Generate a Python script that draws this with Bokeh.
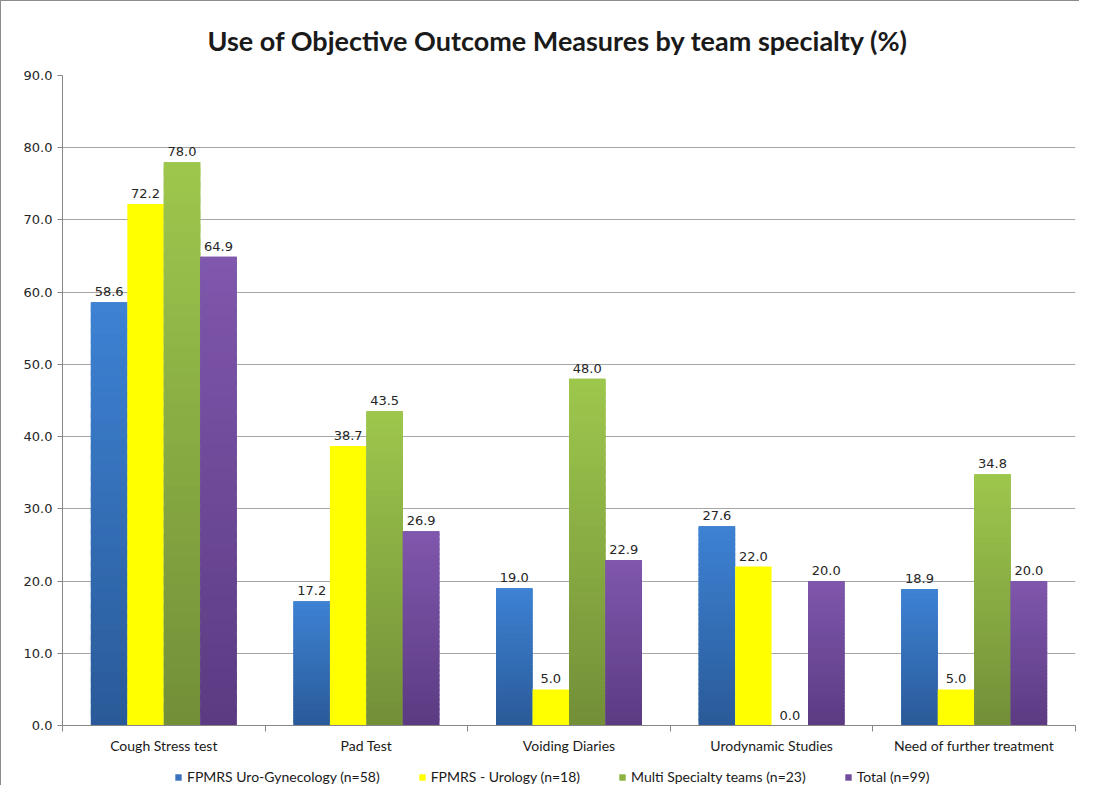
import numpy as np
from bokeh.plotting import figure
from bokeh.layouts import column
from bokeh.models import (ColumnDataSource, FixedTicker, Legend, LegendItem, LabelSet,
                          NumeralTickFormatter, Range1d)
from bokeh.core.properties import value
from bokeh.embed import file_html
from bokeh.resources import INLINE

# ---------------- data ----------------
categories = ["Cough Stress test", "Pad Test", "Voiding Diaries",
              "Urodynamic Studies", "Need of further treatment"]
series_names = ["FPMRS Uro-Gynecology (n=58)", "FPMRS - Urology (n=18)",
                "Multi Specialty teams (n=23)", "Total (n=99)"]
uro_gyn = [58.6, 17.2, 19.0, 27.6, 18.9]
urology = [72.2, 38.7, 5.0, 22.0, 5.0]
multi = [78.0, 43.5, 48.0, 0.0, 34.8]
total = [64.9, 26.9, 22.9, 20.0, 20.0]
y_ticks = [0, 10, 20, 30, 40, 50, 60, 70, 80, 90]
title_text = "Use of Objective Outcome Measures by team specialty (%)"

# ---------------- styles ----------------
series_values = [uro_gyn, urology, multi, total]
base_colors = ["#3a72c0", "#ffff00", "#8ab43f", "#6f4c9e"]
top_colors = ["#3d82d4", "#ffff00", "#9ec74d", "#7f57ad"]
bottom_colors = ["#2a5a98", "#ffff00", "#728f38", "#5c3b82"]

BAR_W = 0.18
offsets = [-1.5 * BAR_W, -0.5 * BAR_W, 0.5 * BAR_W, 1.5 * BAR_W]
W = 1078

p = figure(width=W, height=767, output_backend="svg", toolbar_location=None,
           x_range=Range1d(0, len(categories)), y_range=Range1d(0, 90),
           min_border_left=61, min_border_right=4, min_border_top=74,
           min_border_bottom=43, title=title_text)
p.outline_line_color = None
p.background_fill_color = "white"
p.border_fill_color = "white"

p.title.align = "left"
p.title.offset = 145
p.title.text_font = "Lato"
p.title.text_font_style = "bold"
p.title.text_font_size = "27px"
p.title.text_color = "#1a1a1a"
p.title.standoff = 37

def hex2rgb(h):
    h = h.lstrip("#")
    return np.array([int(h[i:i + 2], 16) for i in (0, 2, 4)], dtype=float)

def rgb2hex(c):
    return "#%02x%02x%02x" % tuple(int(round(v)) for v in c)

centers = np.arange(len(categories)) + 0.5
N = 40
sources = []
for si, vals in enumerate(series_values):
    xs = centers + offsets[si]
    src = ColumnDataSource(dict(x=xs, top=vals, lbl=["%.1f" % v for v in vals]))
    sources.append(src)
    p.vbar(x="x", top="top", bottom=0, width=BAR_W, source=src,
           fill_color=base_colors[si], line_color=None)
    # vertical gradient overlay
    if top_colors[si] != bottom_colors[si]:
        gx, gb, gt, gc = [], [], [], []
        c0 = hex2rgb(bottom_colors[si]); c1 = hex2rgb(top_colors[si])
        for x, v in zip(xs, vals):
            if v <= 0:
                continue
            for k in range(N):
                gx.append(x)
                gb.append(v * k / N)
                gt.append(min(v, v * (k + 1.6) / N))
                gc.append(rgb2hex(c0 + (c1 - c0) * (k + 0.5) / N))
        p.vbar(x=gx, bottom=gb, top=gt, width=BAR_W, fill_color=gc, line_color=None)
    labels = LabelSet(x="x", y="top", text="lbl", source=src, y_offset=6,
                      text_align="center", text_baseline="bottom",
                      text_font=value("DejaVu Sans"), text_font_size=value("13px"),
                      text_color="#262626")
    p.add_layout(labels)

# axes
p.xgrid.grid_line_color = None
p.ygrid.grid_line_color = "#a6a6a6"
p.ygrid.grid_line_width = 1.2
p.yaxis.ticker = FixedTicker(ticks=y_ticks)
p.ygrid.ticker = FixedTicker(ticks=y_ticks)
p.yaxis.formatter = NumeralTickFormatter(format="0.0")
p.yaxis.axis_line_color = "#868686"
p.yaxis.major_tick_line_color = "#868686"
p.yaxis.major_tick_out = 5
p.yaxis.major_tick_in = 0
p.yaxis.minor_tick_line_color = None
p.yaxis.major_label_text_font = "DejaVu Sans"
p.yaxis.major_label_text_font_size = "13px"
p.yaxis.major_label_text_color = "#262626"
p.yaxis.major_label_standoff = 5

p.xaxis.ticker = FixedTicker(ticks=list(centers), minor_ticks=list(range(len(categories) + 1)))
p.xaxis.major_label_overrides = {float(c): cat for c, cat in zip(centers, categories)}
p.xaxis.major_tick_line_color = None
p.xaxis.minor_tick_line_color = "#868686"
p.xaxis.minor_tick_out = 6
p.xaxis.minor_tick_in = 0
p.xaxis.axis_line_color = "#868686"
p.xaxis.major_label_text_font = "Lato"
p.xaxis.major_label_text_font_size = "14px"
p.xaxis.major_label_text_color = "#1a1a1a"
p.xaxis.major_label_standoff = 5

# ---------------- legend strip ----------------
lg = figure(width=W, height=17, output_backend="svg", toolbar_location=None,
            x_range=Range1d(0, 1), y_range=Range1d(0, 1),
            x_axis_location=None, y_axis_location=None,
            min_border=0, outline_line_color=None)
lg.grid.visible = False
lg.background_fill_color = "white"
lg.border_fill_color = "white"
items = []
for si, name in enumerate(series_names):
    r = lg.vbar(x="x", top="top", width=BAR_W, source=sources[si],
                fill_color=base_colors[si], line_color=None)
    r.visible = False
    items.append(LegendItem(label=name, renderers=[r]))
legend = Legend(items=items, location=(112, 0), orientation="horizontal",
                border_line_color=None, background_fill_alpha=0, padding=0, margin=0,
                spacing=38, glyph_width=8, glyph_height=8, label_standoff=5,
                label_text_font="Lato", label_text_font_size="14px",
                label_text_color="#1a1a1a", label_height=17)
lg.add_layout(legend, "center")

layout = column(p, lg, spacing=0)
layout.styles = {"border-left": "1px solid #8c8c8c", "border-top": "1px solid #8c8c8c",
                 "background-color": "white"}

open("out.html", "w").write(file_html(layout, INLINE))
